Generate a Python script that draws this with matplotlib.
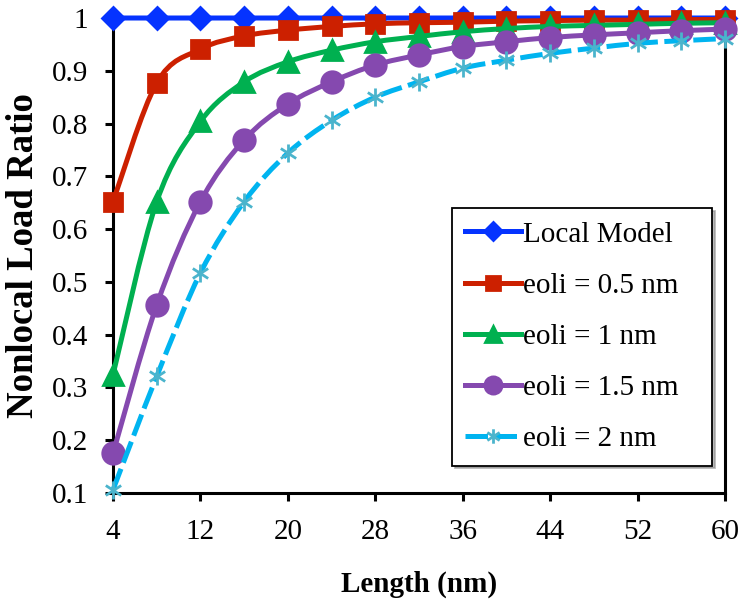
import matplotlib
matplotlib.use("Agg")
import matplotlib.pyplot as plt
from matplotlib.path import Path
from matplotlib.patches import PathPatch
from matplotlib.lines import Line2D

length = [4, 8, 12, 16, 20, 24, 28, 32, 36, 40, 44, 48, 52, 56, 60]
local_model = [1, 1, 1, 1, 1, 1, 1, 1, 1, 1, 1, 1, 1, 1, 1]
eoli_05 = [0.652, 0.877, 0.941, 0.966, 0.977, 0.984, 0.989, 0.991, 0.992, 0.994, 0.995, 0.996, 0.996, 0.997, 0.997]
eoli_1 = [0.324, 0.652, 0.804, 0.879, 0.917, 0.939, 0.955, 0.965, 0.974, 0.980, 0.984, 0.986, 0.988, 0.990, 0.991]
eoli_15 = [0.175, 0.456, 0.652, 0.769, 0.837, 0.879, 0.911, 0.930, 0.946, 0.955, 0.963, 0.968, 0.972, 0.976, 0.979]
eoli_2 = [0.106, 0.321, 0.517, 0.652, 0.744, 0.806, 0.850, 0.879, 0.905, 0.920, 0.933, 0.943, 0.952, 0.957, 0.961]
labels = ["Local Model", "eoli = 0.5 nm", "eoli = 1 nm", "eoli = 1.5 nm", "eoli = 2 nm"]

plt.rcParams["font.family"] = ["Liberation Serif", "DejaVu Serif"]

star = Path([(0, -1), (0, 1), (-0.85, -0.55), (0.85, 0.55), (-0.85, 0.55), (0.85, -0.55)],
            [Path.MOVETO, Path.LINETO, Path.MOVETO, Path.LINETO, Path.MOVETO, Path.LINETO])

styles = [
    dict(color="#0533FF", marker="D", ms=11.5, mfc="#0533FF", mec="#0533FF", ls="-"),
    dict(color="#CC2000", marker="s", ms=13, mfc="#CC2000", mec="#CC2000", ls="-"),
    dict(color="#00B050", marker="^", ms=15, mfc="#00B050", mec="#00B050", ls="-"),
    dict(color="#8549AF", marker="o", ms=15.5, mfc="#8549AF", mec="#8549AF", ls="-"),
    dict(color="#00B4F0", marker=star, ms=13, mfc="none", mec="#4BB4CC", ls=(0, (4.5, 1.3))),
]


def smooth_path(x, y):
    """Excel-like smoothed line: Catmull-Rom curve as cubic Bezier."""
    pts = list(zip(x, y))
    n = len(pts)
    verts = [pts[0]]
    codes = [Path.MOVETO]
    for i in range(n - 1):
        p0 = pts[max(i - 1, 0)]
        p1 = pts[i]
        p2 = pts[i + 1]
        p3 = pts[min(i + 2, n - 1)]
        c1 = (p1[0] + (p2[0] - p0[0]) / 6, p1[1] + (p2[1] - p0[1]) / 6)
        c2 = (p2[0] - (p3[0] - p1[0]) / 6, p2[1] - (p3[1] - p1[1]) / 6)
        verts += [c1, c2, p2]
        codes += [Path.CURVE4] * 3
    return Path(verts, codes)


fig = plt.figure(figsize=(7.39, 6.01), dpi=100)
ax = fig.add_axes([113 / 739, 1 - 493 / 601, 612 / 739, 475 / 601])

series = [local_model, eoli_05, eoli_1, eoli_15, eoli_2]
handles = []
lw = 3.6
for data, st, lab in zip(series, styles, labels):
    patch = PathPatch(smooth_path(length, data), fill=False, edgecolor=st["color"],
                      lw=lw, linestyle=st["ls"], clip_on=False, capstyle="butt",
                      zorder=3)
    ax.add_patch(patch)
    ax.plot(length, data, linestyle="none", marker=st["marker"], ms=st["ms"],
            mfc=st["mfc"], mec=st["mec"], mew=2, clip_on=False, zorder=3)
    handles.append(Line2D([], [], color=st["color"], lw=lw, linestyle=st["ls"],
                          marker=st["marker"], ms=st["ms"], mfc=st["mfc"],
                          mec=st["mec"], mew=2, label=lab))

ax.set_xlim(4, 60)
ax.set_ylim(0.1, 1)
ax.set_xticks(range(4, 61, 8))
ax.set_yticks([0.1, 0.2, 0.3, 0.4, 0.5, 0.6, 0.7, 0.8, 0.9, 1.0])
ax.set_yticklabels(["0.1", "0.2", "0.3", "0.4", "0.5", "0.6", "0.7", "0.8", "0.9", "1"])

for side in ["left", "bottom", "right", "top"]:
    ax.spines[side].set_linewidth(2.2)
ax.tick_params(axis="both", direction="out", length=6, width=2.2, labelsize=21)
ax.tick_params(axis="y", pad=12)
ax.tick_params(axis="x", pad=13)

ax.set_xlabel("Length (nm)", fontsize=21, fontweight="bold", labelpad=18)
ax.set_ylabel("Nonlocal Load Ratio", fontsize=26.5, fontweight="bold", labelpad=8)

leg = ax.legend(handles=handles, loc="upper left",
                bbox_to_anchor=((452 - 113) / 612, (493 - 208) / 475,
                                (712 - 452) / 612, 0),
                mode="expand", borderaxespad=0, fontsize=21, numpoints=1,
                markerscale=0.8, handlelength=1.9, handletextpad=0.1,
                labelspacing=0.85, borderpad=0.45, fancybox=False, framealpha=1,
                shadow={"color": "0.55", "alpha": 0.6})
leg.get_frame().set_edgecolor("black")
leg.get_frame().set_linewidth(1.3)
leg.set_zorder(5)

fig.savefig("out.png", dpi=100)
